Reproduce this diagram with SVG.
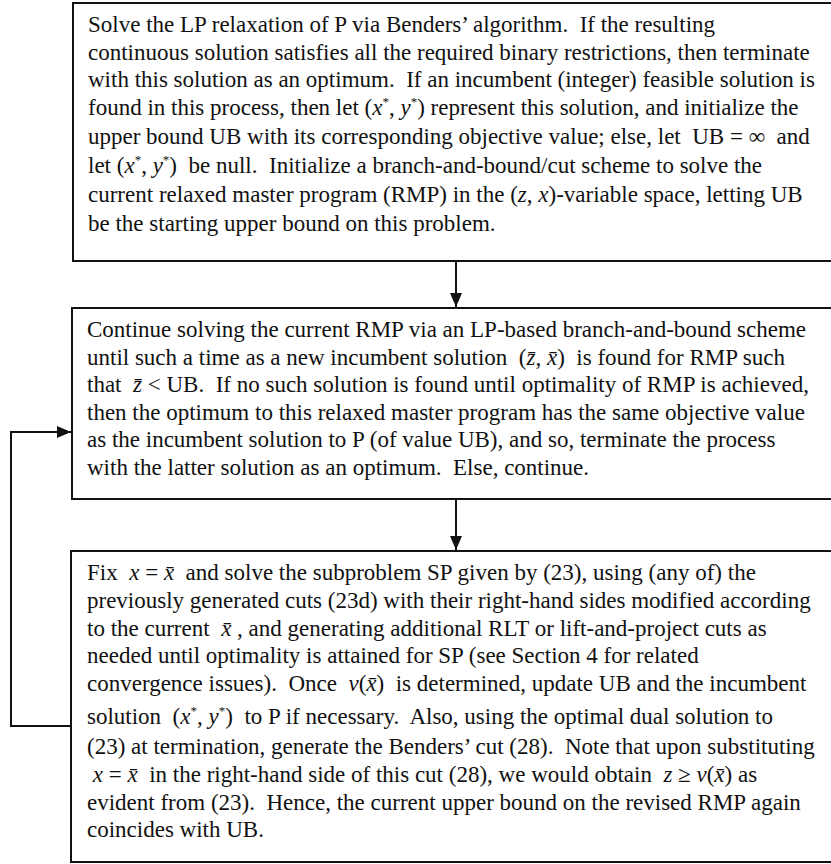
<svg xmlns="http://www.w3.org/2000/svg" width="831" height="864" viewBox="0 0 831 864" xml:space="preserve">
<defs>
<style>
.box{fill:#fff;stroke:#111;stroke-width:2}
.t{font-family:"Liberation Serif","Times New Roman",serif;font-size:23px;fill:#111;white-space:pre}
.i{font-style:italic}
.sup{font-size:13px}
.conn{fill:none;stroke:#111;stroke-width:2}
</style>
<marker id="ah" viewBox="0 0 14 12" refX="14" refY="6" markerWidth="14" markerHeight="12" markerUnits="userSpaceOnUse" orient="auto">
<path d="M0,0 L14,6 L0,12 Z" fill="#111"/>
</marker>
</defs>
<rect width="831" height="864" fill="#fff"/>
<g id="connectors">
<path class="conn" d="M456,261 V307" marker-end="url(#ah)"/>
<path class="conn" d="M456,499 V550" marker-end="url(#ah)"/>
<path class="conn" d="M71,726 H11 V432 H71" marker-end="url(#ah)"/>
</g>
<g id="node1">
<rect class="box" x="73" y="3" width="770" height="258"/>
<text class="t" x="88" y="32">Solve the LP relaxation of P via Benders’ algorithm.  If the resulting</text>
<text class="t" x="88" y="60">continuous solution satisfies all the required binary restrictions, then terminate</text>
<text class="t" x="88" y="87">with this solution as an optimum.  If an incumbent (integer) feasible solution is</text>
<text class="t" x="88" y="115">found in this process, then let (<tspan class="i">x</tspan><tspan class="sup" dy="-9">*</tspan><tspan dy="9">, </tspan><tspan class="i">y</tspan><tspan class="sup" dy="-9">*</tspan><tspan dy="9">) represent this solution, and initialize the</tspan></text>
<text class="t" x="88" y="144">upper bound UB with its corresponding objective value; else, let  UB = ∞  and</text>
<text class="t" x="88" y="173">let (<tspan class="i">x</tspan><tspan class="sup" dy="-9">*</tspan><tspan dy="9">, </tspan><tspan class="i">y</tspan><tspan class="sup" dy="-9">*</tspan><tspan dy="9">)  be null.  Initialize a branch-and-bound/cut scheme to solve the</tspan></text>
<text class="t" x="88" y="202">current relaxed master program (RMP) in the (<tspan class="i">z</tspan>, <tspan class="i">x</tspan>)-variable space, letting UB</text>
<text class="t" x="88" y="231">be the starting upper bound on this problem.</text>
</g>
<g id="node2">
<rect class="box" x="72" y="308" width="770" height="191"/>
<text class="t" x="87" y="337">Continue solving the current RMP via an LP-based branch-and-bound scheme</text>
<text class="t" x="87" y="365">until such a time as a new incumbent solution  (<tspan class="i">z̄</tspan>, <tspan class="i">x̄</tspan>)  is found for RMP such</text>
<text class="t" x="87" y="392">that  <tspan class="i">z̄</tspan> &lt; UB.  If no such solution is found until optimality of RMP is achieved,</text>
<text class="t" x="87" y="420">then the optimum to this relaxed master program has the same objective value</text>
<text class="t" x="87" y="447">as the incumbent solution to P (of value UB), and so, terminate the process</text>
<text class="t" x="87" y="475">with the latter solution as an optimum.  Else, continue.</text>
</g>
<g id="node3">
<rect class="box" x="71" y="551" width="772" height="311"/>
<text class="t" x="87" y="580">Fix  <tspan class="i">x</tspan> = <tspan class="i">x̄</tspan>  and solve the subproblem SP given by (23), using (any of) the</text>
<text class="t" x="87" y="608">previously generated cuts (23d) with their right-hand sides modified according</text>
<text class="t" x="87" y="636">to the current  <tspan class="i">x̄</tspan> , and generating additional RLT or lift-and-project cuts as</text>
<text class="t" x="87" y="663">needed until optimality is attained for SP (see Section 4 for related</text>
<text class="t" x="87" y="691">convergence issues).  Once  <tspan class="i">v</tspan>(<tspan class="i">x̄</tspan>)  is determined, update UB and the incumbent</text>
<text class="t" x="87" y="724">solution  (<tspan class="i">x</tspan><tspan class="sup" dy="-9">*</tspan><tspan dy="9">, </tspan><tspan class="i">y</tspan><tspan class="sup" dy="-9">*</tspan><tspan dy="9">)  to P if necessary.  Also, using the optimal dual solution to</tspan></text>
<text class="t" x="87" y="754">(23) at termination, generate the Benders’ cut (28).  Note that upon substituting</text>
<text class="t" x="87" y="782"> <tspan class="i">x</tspan> = <tspan class="i">x̄</tspan>  in the right-hand side of this cut (28), we would obtain  <tspan class="i">z</tspan> ≥ <tspan class="i">v</tspan>(<tspan class="i">x̄</tspan>) as</text>
<text class="t" x="87" y="810">evident from (23).  Hence, the current upper bound on the revised RMP again</text>
<text class="t" x="87" y="837">coincides with UB.</text>
</g>
</svg>
